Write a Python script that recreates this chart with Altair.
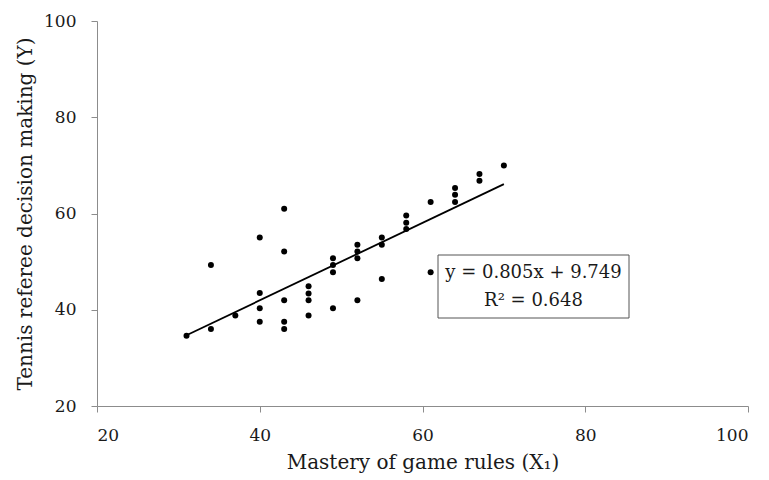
import altair as alt
import pandas as pd

# Data
mastery_x = [31, 34, 34, 37, 40, 40, 40, 40, 43, 43, 43, 43, 43, 46, 46, 46, 46,
             49, 49, 49, 49, 52, 52, 52, 52, 55, 55, 55, 58, 58, 58, 61, 61,
             64, 64, 64, 67, 67, 70]
decision_y = [34.6, 36.0, 49.3, 38.8, 55.0, 43.5, 40.3, 37.5, 61.0, 52.1, 42.0, 37.5, 36.0,
              44.9, 43.4, 42.0, 38.8, 50.7, 49.3, 47.8, 40.3, 53.5, 52.1, 50.7, 42.0,
              55.0, 53.5, 46.4, 59.6, 58.1, 56.8, 62.4, 47.8, 65.3, 63.9, 62.4,
              68.2, 66.8, 70.0]

slope = 0.805
intercept = 9.749
trend_x_range = [31, 70]
equation_lines = ["y = 0.805x + 9.749", "R² = 0.648"]

x_ticks = [20, 40, 60, 80, 100]
y_ticks = [20, 40, 60, 80, 100]

FONT = "DejaVu Serif"
AX_GRAY = "#8c8c8c"
TXT = "#1a1a1a"

pts = pd.DataFrame({"x": mastery_x, "y": decision_y})
trend = pd.DataFrame({"x": trend_x_range})
trend["y"] = slope * trend["x"] + intercept

xscale = alt.Scale(domain=[20, 100], nice=False, zero=False)
yscale = alt.Scale(domain=[20, 100], nice=False, zero=False)

x_axis = alt.Axis(values=x_ticks, grid=False, title="Mastery of game rules (X₁)",
                  domainColor=AX_GRAY, tickColor=AX_GRAY, tickSize=6,
                  labelFont=FONT, labelFontSize=17, labelColor=TXT,
                  labelPadding=15, titleFont=FONT, titleFontSize=20,
                  titleFontWeight="normal", titleColor=TXT, titlePadding=9)
y_axis = alt.Axis(values=y_ticks, grid=False, title="Tennis referee decision making (Y)",
                  domainColor=AX_GRAY, tickColor=AX_GRAY, tickSize=6,
                  labelFont=FONT, labelFontSize=17, labelColor=TXT,
                  labelPadding=15, titleFont=FONT, titleFontSize=20,
                  titleFontWeight="normal", titleColor=TXT, titlePadding=8)

points = alt.Chart(pts).mark_circle(size=36, color="black", opacity=1).encode(
    x=alt.X("x:Q", scale=xscale, axis=x_axis),
    y=alt.Y("y:Q", scale=yscale, axis=y_axis),
)

line = alt.Chart(trend).mark_line(color="black", strokeWidth=1.8).encode(
    x=alt.X("x:Q", scale=xscale),
    y=alt.Y("y:Q", scale=yscale),
)

box = alt.Chart(pd.DataFrame({"a": [0]})).mark_rect(
    fill="white", stroke="#555555", strokeWidth=1
).encode(x=alt.value(341), x2=alt.value(532), y=alt.value(234), y2=alt.value(297))

eq1 = alt.Chart(pd.DataFrame({"t": [equation_lines[0]]})).mark_text(
    font=FONT, fontSize=18, color=TXT, align="center", baseline="middle"
).encode(text="t:N", x=alt.value(436.5), y=alt.value(252))

eq2 = alt.Chart(pd.DataFrame({"t": [equation_lines[1]]})).mark_text(
    font=FONT, fontSize=18, color=TXT, align="center", baseline="middle"
).encode(text="t:N", x=alt.value(436.5), y=alt.value(280))

chart = alt.layer(points, line, box, eq1, eq2).properties(
    width=651, height=385,
    autosize=alt.AutoSizeParams(type="none"),
    padding={"left": 89, "top": 13, "right": 10, "bottom": 72},
).configure_view(stroke=None)

chart.save("out.html", embed_options={"renderer": "svg", "actions": False})
